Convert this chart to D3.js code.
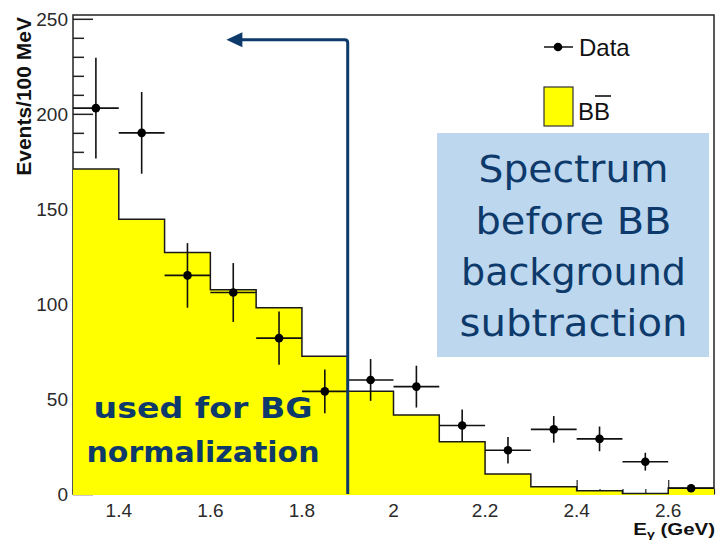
<!DOCTYPE html>
<html>
<head>
<meta charset="utf-8">
<script src="https://cdn.jsdelivr.net/npm/d3@7"></script>
<style>
  html, body { margin: 0; padding: 0; background: #fff; }
  svg { display: block; }
</style>
</head>
<body>
<svg id="chart" width="717" height="547"></svg>
<script>
// Photon energy bins (lower edges, GeV), 100 MeV wide
const binLow = [1.3, 1.4, 1.5, 1.6, 1.7, 1.8, 1.9, 2.0, 2.1, 2.2, 2.3, 2.4, 2.5, 2.6];
const binWidth = 0.1;
// BB-bar Monte Carlo background, events / 100 MeV
const bbCounts = [171, 144.5, 127, 107.5, 98, 72.5, 54, 41.5, 27.5, 10.5, 3.8, 1.7, 0.3, 3.2];
// Measured spectrum: bin centres, counts and uncertainties
const dataX = [1.35, 1.45, 1.55, 1.65, 1.75, 1.85, 1.95, 2.05, 2.15, 2.25, 2.35, 2.45, 2.55, 2.65];
const dataY = [203, 190, 115, 106, 82, 54, 60, 56.5, 36, 23, 34, 29, 17, 3];
const dataErr = [26.5, 21.5, 17, 15.5, 14, 11.5, 11, 11, 8.5, 7, 7, 6.5, 4.7, 1.5];
// Axis ticks
const xTickVals = [1.4, 1.6, 1.8, 2.0, 2.2, 2.4, 2.6];
const xTickLabels = ["1.4", "1.6", "1.8", "2", "2.2", "2.4", "2.6"];
const yTickVals = [0, 50, 100, 150, 200, 250];
// Normalisation window boundary and arrow extent (GeV, events)
const cutEnergy = 1.9;
const arrowTipEnergy = 1.635;
const arrowLevel = 239;

const svg = d3.select("#chart");
const frame = { left: 73, right: 714, top: 15, bottom: 494 };

const x = d3.scaleLinear().domain([1.3, 2.7]).range([frame.left, frame.right]);
const y = d3.scaleLinear().domain([0, 252]).range([frame.bottom, frame.top]);

const navy = "#0d3a6b";
const axisFont = "'Liberation Sans', Arial, Helvetica, sans-serif";

// ---- frame and inward ticks ----
const axes = svg.append("g");
axes.append("rect")
  .attr("x", frame.left).attr("y", frame.top)
  .attr("width", frame.right - frame.left).attr("height", frame.bottom - frame.top)
  .attr("fill", "none").attr("stroke", "#222").attr("stroke-width", 1.5);

// y ticks: major every 50, minor every 10
const yAxis = d3.axisRight(y)
  .tickValues(d3.range(0, 251, 10))
  .tickSize(0).tickFormat("");
const yg = axes.append("g").attr("transform", `translate(${frame.left},0)`).call(yAxis);
yg.select(".domain").remove();
yg.selectAll(".tick line")
  .attr("x2", d => d % 50 === 0 ? 20 : 11)
  .attr("stroke", "#222").attr("stroke-width", 1.5);

// x ticks: major every 0.2, minor every 0.05
const xMinor = d3.range(26, 55).map(i => i / 20);
const xAxis = d3.axisTop(x).tickValues(xMinor).tickSize(0).tickFormat("");
const xg = axes.append("g").attr("transform", `translate(0,${frame.bottom})`).call(xAxis);
xg.select(".domain").remove();
xg.selectAll(".tick line")
  .attr("y2", d => (Math.round(d * 10) % 2 === 0 && Math.abs(d * 10 - Math.round(d * 10)) < 1e-6) ? -14 : -5)
  .attr("stroke", "#222").attr("stroke-width", 1.2);

// tick labels
axes.selectAll("text.ylab").data(yTickVals).join("text")
  .attr("class", "ylab")
  .attr("x", 68).attr("y", d => y(d)).attr("dy", "0.36em")
  .attr("text-anchor", "end")
  .attr("font-family", axisFont).attr("font-size", 19).attr("fill", "#2a2a2a")
  .text(d => d);
axes.selectAll("text.xlab").data(xTickVals).join("text")
  .attr("class", "xlab")
  .attr("x", d => x(d)).attr("y", 517)
  .attr("text-anchor", "middle")
  .attr("font-family", axisFont).attr("font-size", 19).attr("fill", "#2a2a2a")
  .text((d, i) => xTickLabels[i]);

// axis titles
axes.append("text")
  .attr("transform", "translate(31,17) rotate(-90)")
  .attr("text-anchor", "end")
  .attr("font-family", axisFont).attr("font-size", 21).attr("font-weight", "bold").attr("fill", "#111")
  .text("Events/100 MeV");
const xt = axes.append("text")
  .attr("transform", "translate(715,535) scale(1.28,1)")
  .attr("text-anchor", "end")
  .attr("font-family", axisFont).attr("font-size", 16).attr("font-weight", "bold").attr("fill", "#111");
xt.append("tspan").text("E");
xt.append("tspan").attr("font-size", 11).attr("dy", 3).text("γ");
xt.append("tspan").attr("dy", -3).text(" (GeV)");

// ---- BB-bar background histogram ----
const bins = binLow.map((lo, i) => ({ lo, hi: lo + binWidth, v: bbCounts[i] }));
const stepPts = [];
bins.forEach(b => { stepPts.push([x(b.lo), y(b.v)]); stepPts.push([x(b.hi), y(b.v)]); });

const fillPts = [[x(bins[0].lo), frame.bottom + 1], ...stepPts, [x(bins[bins.length - 1].hi), frame.bottom + 1]];
svg.append("path")
  .attr("d", d3.line()(fillPts) + "Z")
  .attr("fill", "#ffff00").attr("stroke", "none");
svg.append("path")
  .attr("d", d3.line()(stepPts))
  .attr("fill", "none").attr("stroke", "#1a1a1a").attr("stroke-width", 1.5);

// ---- data points with error bars ----
const pts = svg.append("g").attr("stroke", "#111").attr("stroke-width", 1.6);
dataX.forEach((cx, i) => {
  const g = pts.append("g");
  g.append("line")
    .attr("x1", x(cx - binWidth / 2)).attr("x2", x(cx + binWidth / 2))
    .attr("y1", y(dataY[i])).attr("y2", y(dataY[i]));
  g.append("line")
    .attr("x1", x(cx)).attr("x2", x(cx))
    .attr("y1", y(dataY[i] + dataErr[i])).attr("y2", y(dataY[i] - dataErr[i]));
  g.append("circle")
    .attr("cx", x(cx)).attr("cy", y(dataY[i])).attr("r", 4.3)
    .attr("fill", "#000").attr("stroke", "none");
});

// ---- legend ----
const legend = svg.append("g").attr("font-family", axisFont).attr("font-size", 24).attr("fill", "#111");
legend.append("line").attr("x1", 544).attr("x2", 573).attr("y1", 47).attr("y2", 47)
  .attr("stroke", "#111").attr("stroke-width", 1.5);
legend.append("circle").attr("cx", 558).attr("cy", 47).attr("r", 4.3).attr("fill", "#000");
legend.append("text").attr("x", 579).attr("y", 56).text("Data");
legend.append("rect").attr("x", 544).attr("y", 87).attr("width", 29).attr("height", 39)
  .attr("fill", "#ffff00").attr("stroke", "#333").attr("stroke-width", 1.2);
legend.append("text").attr("x", 578).attr("y", 120).text("BB");
// bar over the second B
legend.append("line").attr("x1", 595).attr("x2", 611).attr("y1", 96).attr("y2", 96)
  .attr("stroke", "#111").attr("stroke-width", 1.6);

// ---- annotation box ----
const box = svg.append("g");
box.append("rect").attr("x", 437).attr("y", 133).attr("width", 272).attr("height", 224)
  .attr("fill", "#bdd7ee");
const boxLines = [
  { t: "Spectrum", y: 182, w: 190 },
  { t: "before BB", y: 234, w: 196 },
  { t: "background", y: 285, w: 225 },
  { t: "subtraction", y: 336, w: 228 }
];
box.selectAll("text").data(boxLines).join("text")
  .attr("x", 573.5).attr("y", d => d.y)
  .attr("text-anchor", "middle")
  .attr("font-family", "'Comic Sans MS', 'DejaVu Sans', sans-serif").attr("font-size", 38)
  .attr("fill", navy)
  .attr("textLength", d => d.w).attr("lengthAdjust", "spacingAndGlyphs")
  .text(d => d.t);

// ---- normalisation window: cut line and arrow ----
const cutX = x(cutEnergy), arrowY = y(arrowLevel), tipX = x(arrowTipEnergy);
svg.append("path")
  .attr("d", `M${cutX},${frame.bottom} L${cutX},${arrowY + 3} Q${cutX},${arrowY} ${cutX - 3},${arrowY} L${tipX + 14},${arrowY}`)
  .attr("fill", "none").attr("stroke", navy).attr("stroke-width", 3);
svg.append("path")
  .attr("d", `M${tipX},${arrowY} L${tipX + 16},${arrowY - 7.5} L${tipX + 16},${arrowY + 7.5} Z`)
  .attr("fill", navy);

const norm = [
  { t: "used for BG", y: 418, w: 219 },
  { t: "normalization", y: 462, w: 233 }
];
svg.selectAll("text.norm").data(norm).join("text")
  .attr("class", "norm")
  .attr("x", 203).attr("y", d => d.y)
  .attr("text-anchor", "middle")
  .attr("font-family", "'Comic Sans MS', 'DejaVu Sans', sans-serif").attr("font-size", 29).attr("font-weight", "bold")
  .attr("fill", navy)
  .attr("textLength", d => d.w).attr("lengthAdjust", "spacingAndGlyphs")
  .text(d => d.t);
</script>
</body>
</html>
